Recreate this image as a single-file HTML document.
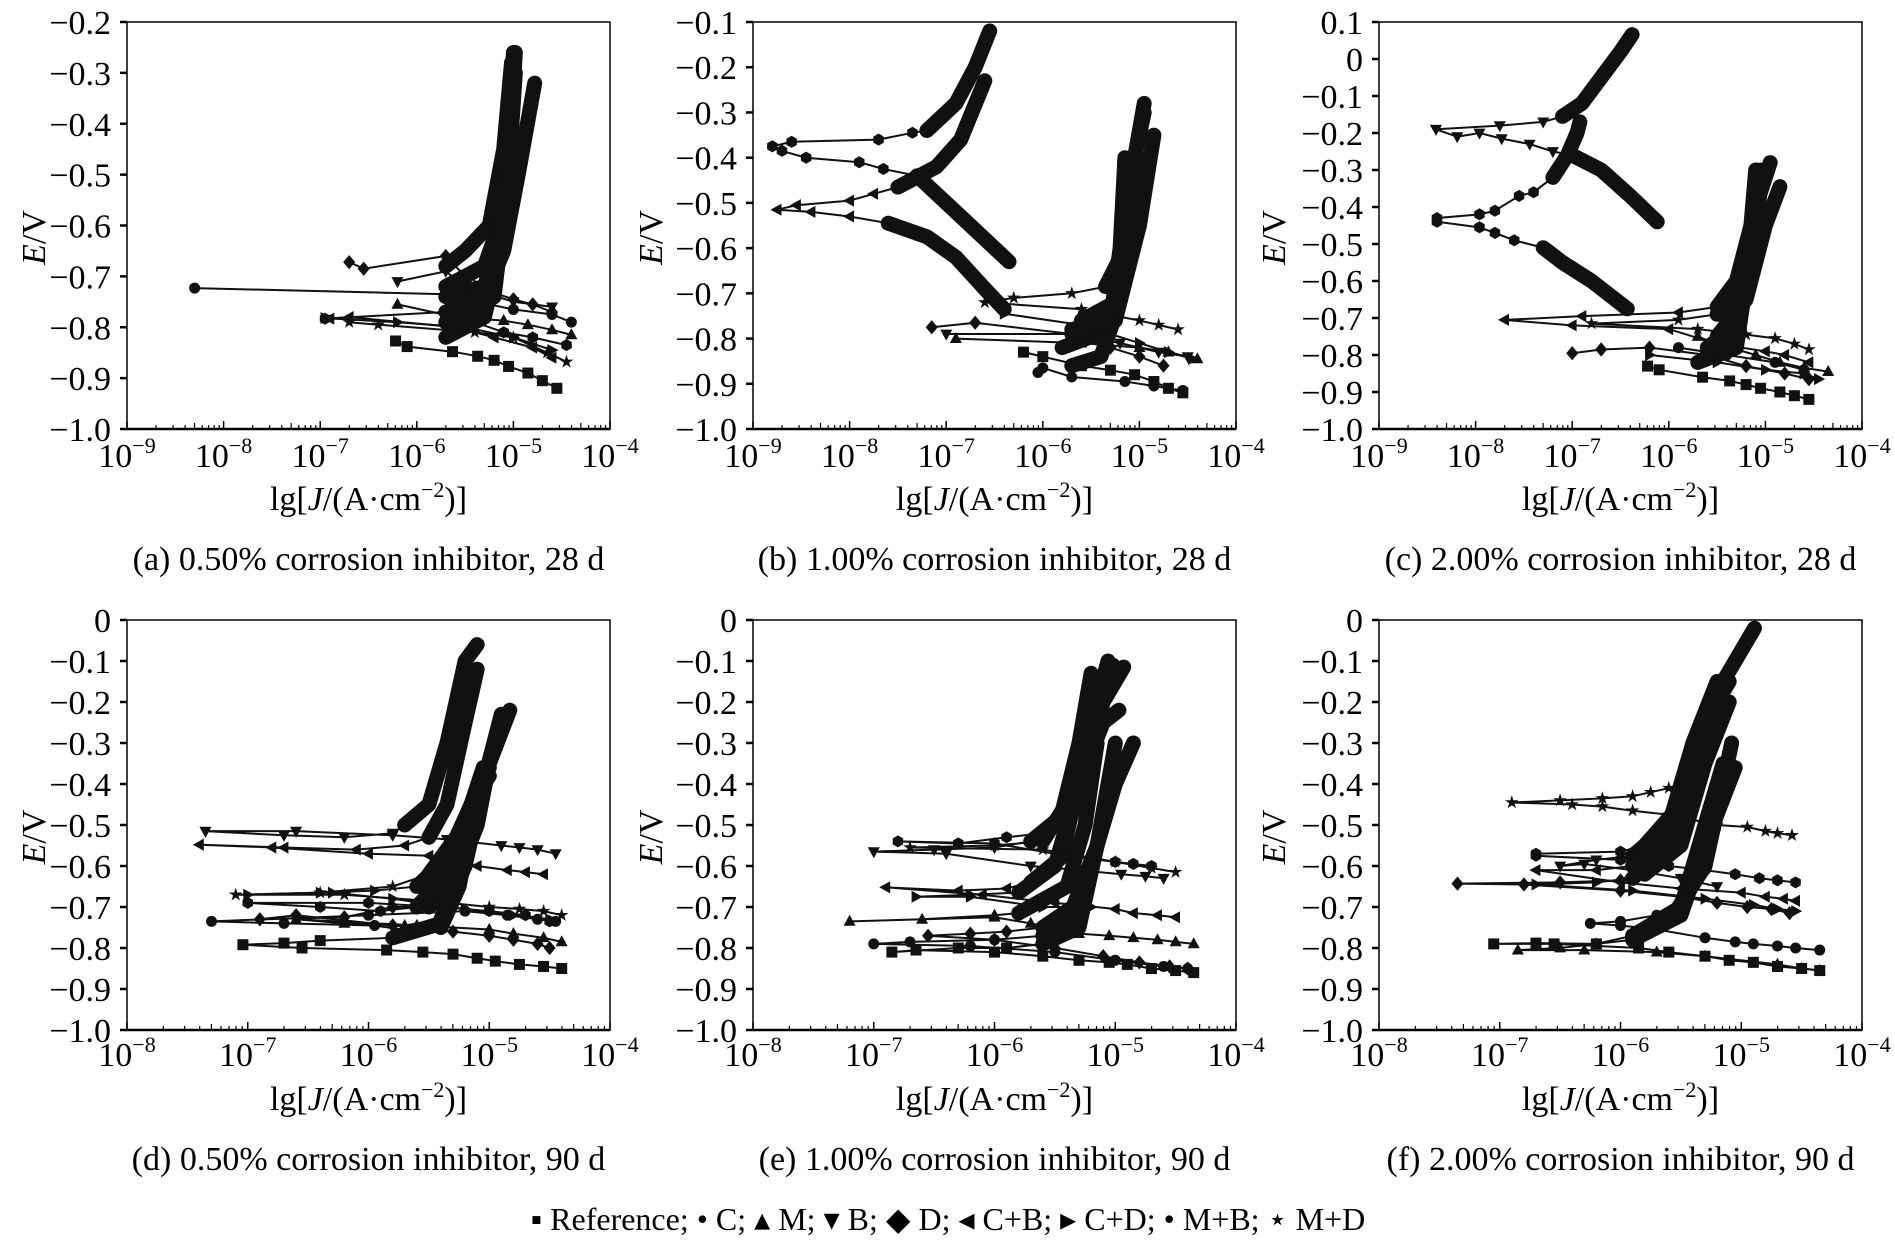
<!DOCTYPE html>
<html><head><meta charset="utf-8"><style>
html,body{margin:0;padding:0;background:#fff;}
svg{display:block;font-family:"Liberation Serif",serif;}
</style></head><body>
<svg id="fig" width="1895" height="1257" viewBox="0 0 1895 1257" xmlns="http://www.w3.org/2000/svg">
<text x="948" y="1230" font-size="32" text-anchor="middle">▪ Reference; • C; ▴ M; ▾ B; ◆ D; ◂ C+B; ▸ C+D; • M+B; ⋆ M+D</text>
</svg>
<script>
// ---------- data (lg J, E/V) ----------
const a_ref=[[-4.55,-0.92],[-4.7,-0.905],[-4.85,-0.89],[-5.05,-0.877],[-5.2,-0.865],[-5.37,-0.857],[-5.63,-0.848],[-6.1,-0.838],[-6.22,-0.827]];
const a_ref_w=[[[-5.7,-0.82],[-5.3,-0.78],[-5.2,-0.7],[-5.12,-0.6],[-5.05,-0.45],[-5.0,-0.27]]];
const a_c=[[-4.4,-0.79],[-4.6,-0.775],[-5.0,-0.765],[-5.5,-0.745],[-5.7,-0.735],[-8.3,-0.723]];
const a_c_w=[[[-5.7,-0.74],[-5.3,-0.72],[-5.18,-0.65],[-5.08,-0.45],[-5.0,-0.27]]];
const a_m=[[-4.4,-0.815],[-4.6,-0.805],[-4.85,-0.795],[-5.1,-0.787],[-5.6,-0.78],[-6.2,-0.755]];
const a_m_w=[[[-5.7,-0.77],[-5.3,-0.74],[-5.1,-0.65],[-4.95,-0.5],[-4.78,-0.32]]];
const a_b=[[-4.6,-0.76],[-5.0,-0.75],[-5.5,-0.72],[-5.7,-0.69],[-6.2,-0.71]];
const a_b_w=[[[-5.7,-0.72],[-5.3,-0.68],[-5.15,-0.6],[-5.05,-0.45],[-5.0,-0.26]]];
const a_d=[[-4.6,-0.77],[-4.8,-0.755],[-5.0,-0.745],[-5.4,-0.72],[-5.7,-0.66],[-6.55,-0.685],[-6.7,-0.672]];
const a_d_w=[[[-5.7,-0.68],[-5.5,-0.65],[-5.25,-0.6],[-5.1,-0.45],[-5.02,-0.28]]];
const a_cb=[[-4.6,-0.86],[-4.8,-0.84],[-5.2,-0.82],[-5.6,-0.80],[-6.7,-0.78],[-6.9,-0.783]];
const a_cb_w=[[[-5.7,-0.79],[-5.3,-0.75],[-5.15,-0.6],[-5.0,-0.35]]];
const a_cd=[[-4.6,-0.845],[-5.0,-0.82],[-5.5,-0.80],[-6.2,-0.79],[-6.95,-0.782]];
const a_cd_w=[[[-5.6,-0.79],[-5.25,-0.74],[-5.1,-0.55],[-5.0,-0.3]]];
const a_mb=[[-4.45,-0.835],[-4.8,-0.82],[-5.1,-0.81],[-5.7,-0.77],[-6.95,-0.783]];
const a_mb_w=[[[-5.6,-0.78],[-5.2,-0.73],[-5.05,-0.5],[-4.98,-0.3]]];
const a_md=[[-4.45,-0.868],[-4.65,-0.85],[-5.0,-0.82],[-5.4,-0.81],[-6.4,-0.795],[-6.7,-0.79]];
const a_md_w=[[[-5.6,-0.79],[-5.2,-0.74],[-5.05,-0.5],[-4.98,-0.26]]];

const b_ref=[[-4.55,-0.92],[-4.7,-0.91],[-4.85,-0.895],[-5.05,-0.88],[-5.3,-0.87],[-5.6,-0.86],[-6.0,-0.84],[-6.2,-0.83]];
const b_ref_w=[[[-5.8,-0.82],[-5.3,-0.78],[-5.15,-0.6],[-5.05,-0.4],[-4.95,-0.3]]];
const b_c=[[-4.55,-0.915],[-4.85,-0.905],[-5.15,-0.895],[-5.7,-0.885],[-6.0,-0.865],[-6.05,-0.875]];
const b_c_w=[[[-5.7,-0.86],[-5.4,-0.84],[-5.25,-0.75],[-5.15,-0.6],[-5.08,-0.45]]];
const b_m=[[-4.4,-0.845],[-4.7,-0.83],[-5.0,-0.82],[-5.6,-0.81],[-6.9,-0.8]];
const b_m_w=[[[-5.6,-0.8],[-5.25,-0.76],[-5.0,-0.55],[-4.85,-0.35]]];
const b_b=[[-4.5,-0.84],[-4.8,-0.83],[-5.2,-0.81],[-5.7,-0.79],[-7.0,-0.79]];
const b_b_w=[[[-5.7,-0.79],[-5.3,-0.76],[-5.15,-0.6],[-5.05,-0.42]]];
const b_d=[[-4.75,-0.86],[-5.0,-0.84],[-5.3,-0.82],[-5.7,-0.79],[-6.7,-0.765],[-7.15,-0.775]];
const b_d_w=[[[-5.7,-0.78],[-5.3,-0.76],[-5.2,-0.6],[-5.15,-0.4]]];
const b_cb=[[-7.6,-0.545],[-8.0,-0.53],[-8.4,-0.52],[-8.75,-0.515],[-8.55,-0.505],[-8.0,-0.495],[-7.75,-0.48],[-7.5,-0.465]];
const b_cb_w=[[[-6.4,-0.735],[-6.6,-0.69],[-6.9,-0.62],[-7.2,-0.575],[-7.6,-0.545]],[[-7.5,-0.465],[-7.1,-0.42],[-6.85,-0.36],[-6.6,-0.23]]];
const b_cd=[[-4.45,-0.845],[-4.7,-0.83],[-5.0,-0.81],[-5.6,-0.77],[-6.4,-0.745]];
const b_cd_w=[[[-5.6,-0.76],[-5.25,-0.72],[-5.1,-0.55],[-5.0,-0.40]]];
const b_mb=[[-7.3,-0.44],[-7.65,-0.425],[-7.9,-0.41],[-8.45,-0.4],[-8.7,-0.385],[-8.8,-0.375],[-8.6,-0.365],[-7.7,-0.36],[-7.35,-0.345],[-7.2,-0.34]];
const b_mb_w=[[[-6.35,-0.63],[-6.7,-0.56],[-7.0,-0.5],[-7.3,-0.44]],[[-7.2,-0.34],[-6.9,-0.28],[-6.7,-0.2],[-6.55,-0.12]]];
const b_md=[[-4.6,-0.78],[-4.8,-0.77],[-5.0,-0.76],[-5.6,-0.735],[-6.6,-0.72],[-6.3,-0.71],[-5.7,-0.7],[-5.35,-0.685]];
const b_md_w=[[[-5.35,-0.685],[-5.15,-0.6],[-5.05,-0.4],[-4.95,-0.28]]];

const c_ref=[[-4.55,-0.92],[-4.7,-0.91],[-4.85,-0.9],[-5.05,-0.89],[-5.2,-0.88],[-5.37,-0.87],[-5.65,-0.86],[-6.1,-0.84],[-6.22,-0.83]];
const c_ref_w=[[[-5.7,-0.82],[-5.3,-0.78],[-5.2,-0.6],[-5.1,-0.4],[-5.05,-0.3]]];
const c_c=[[-4.6,-0.84],[-4.9,-0.82],[-5.4,-0.8],[-5.9,-0.78]];
const c_c_w=[[[-5.6,-0.78],[-5.3,-0.72],[-5.15,-0.5],[-5.05,-0.35]]];
const c_m=[[-4.35,-0.845],[-4.6,-0.835],[-4.85,-0.82],[-5.1,-0.8],[-5.5,-0.77],[-5.7,-0.75]];
const c_m_w=[[[-5.5,-0.75],[-5.2,-0.65],[-5.0,-0.45],[-4.85,-0.345]]];
const c_b=[[-7.0,-0.26],[-7.2,-0.25],[-7.44,-0.23],[-7.73,-0.215],[-7.96,-0.2],[-8.19,-0.21],[-8.41,-0.19],[-7.75,-0.18],[-7.3,-0.17],[-7.1,-0.155]];
const c_b_w=[[[-6.12,-0.44],[-6.4,-0.37],[-6.7,-0.3],[-7.0,-0.26]],[[-7.1,-0.155],[-6.9,-0.12],[-6.7,-0.05],[-6.5,0.02],[-6.38,0.066]]];
const c_d=[[-4.55,-0.865],[-4.8,-0.85],[-5.2,-0.83],[-5.6,-0.8],[-6.2,-0.78],[-6.7,-0.785],[-7.0,-0.795]];
const c_d_w=[[[-5.6,-0.78],[-5.3,-0.73],[-5.15,-0.5],[-5.1,-0.35]]];
const c_cb=[[-4.55,-0.82],[-4.8,-0.8],[-5.0,-0.79],[-5.5,-0.77],[-6.0,-0.73],[-7.0,-0.72],[-7.7,-0.705],[-6.9,-0.695],[-5.9,-0.685],[-5.5,-0.67]];
const c_cb_w=[[[-5.5,-0.67],[-5.3,-0.6],[-5.15,-0.45],[-5.1,-0.3]]];
const c_cd=[[-4.45,-0.865],[-4.6,-0.85],[-5.0,-0.84],[-5.5,-0.82],[-6.2,-0.8]];
const c_cd_w=[[[-5.6,-0.79],[-5.3,-0.75],[-5.15,-0.55],[-5.05,-0.35]]];
const c_mb=[[-7.3,-0.51],[-7.6,-0.49],[-7.8,-0.47],[-7.96,-0.455],[-8.4,-0.44],[-8.4,-0.43],[-7.96,-0.42],[-7.8,-0.41],[-7.55,-0.37],[-7.4,-0.36],[-7.2,-0.32]];
const c_mb_w=[[[-6.43,-0.675],[-6.8,-0.6],[-7.1,-0.55],[-7.3,-0.51]],[[-7.2,-0.32],[-7.05,-0.26],[-6.95,-0.2],[-6.92,-0.17]]];
const c_md=[[-4.55,-0.785],[-4.7,-0.77],[-4.9,-0.755],[-5.2,-0.745],[-5.7,-0.73],[-6.8,-0.715],[-5.9,-0.705],[-5.5,-0.69]];
const c_md_w=[[[-5.5,-0.69],[-5.25,-0.6],[-5.1,-0.4],[-4.95,-0.28]]];

const d_ref=[[-4.4,-0.85],[-4.55,-0.845],[-4.75,-0.84],[-4.95,-0.832],[-5.1,-0.825],[-5.3,-0.815],[-5.55,-0.81],[-5.85,-0.805],[-6.55,-0.8],[-7.04,-0.792],[-6.7,-0.788],[-6.4,-0.782],[-5.8,-0.775]];
const d_ref_w=[[[-5.8,-0.775],[-5.4,-0.74],[-5.25,-0.6],[-5.15,-0.45],[-5.05,-0.36]]];
const d_c=[[-4.45,-0.735],[-4.6,-0.73],[-4.85,-0.72],[-5.2,-0.71],[-6.0,-0.72],[-7.3,-0.735],[-6.7,-0.74],[-5.95,-0.745],[-5.6,-0.76],[-5.4,-0.75]];
const d_c_w=[[[-5.4,-0.75],[-5.25,-0.65],[-5.15,-0.5],[-5.05,-0.38]]];
const d_m=[[-4.4,-0.785],[-4.55,-0.775],[-4.8,-0.765],[-5.0,-0.755],[-5.6,-0.745],[-6.6,-0.73],[-6.2,-0.74],[-5.7,-0.745],[-5.4,-0.73]];
const d_m_w=[[[-5.4,-0.73],[-5.2,-0.6],[-5.05,-0.4],[-4.9,-0.23]]];
const d_b=[[-4.45,-0.57],[-4.6,-0.56],[-4.75,-0.555],[-4.9,-0.55],[-5.35,-0.535],[-5.8,-0.525],[-6.6,-0.515],[-7.35,-0.515],[-6.7,-0.525],[-6.2,-0.53],[-5.8,-0.52],[-5.7,-0.5]];
const d_b_w=[[[-5.7,-0.5],[-5.5,-0.45],[-5.35,-0.3],[-5.2,-0.1],[-5.1,-0.06]]];
const d_d=[[-4.5,-0.8],[-4.6,-0.79],[-4.8,-0.78],[-5.0,-0.77],[-5.3,-0.76],[-5.8,-0.745],[-6.6,-0.72],[-6.9,-0.73],[-6.2,-0.725],[-5.8,-0.7],[-5.5,-0.7]];
const d_d_w=[[[-5.5,-0.7],[-5.3,-0.65],[-5.1,-0.5],[-5.0,-0.35]]];
const d_cb=[[-4.55,-0.62],[-4.7,-0.615],[-4.85,-0.61],[-5.1,-0.6],[-5.5,-0.575],[-6.0,-0.57],[-6.8,-0.555],[-7.4,-0.548],[-6.7,-0.555],[-6.1,-0.56],[-5.7,-0.55],[-5.5,-0.53]];
const d_cb_w=[[[-5.5,-0.53],[-5.35,-0.45],[-5.2,-0.25],[-5.1,-0.12]]];
const d_cd=[[-4.5,-0.73],[-4.8,-0.72],[-5.2,-0.705],[-5.8,-0.68],[-6.3,-0.665],[-7.0,-0.67],[-6.4,-0.665],[-5.95,-0.66],[-5.6,-0.65]];
const d_cd_w=[[[-5.6,-0.65],[-5.35,-0.58],[-5.15,-0.45],[-5.0,-0.36]]];
const d_mb=[[-4.5,-0.735],[-4.7,-0.72],[-5.0,-0.71],[-5.4,-0.7],[-6.0,-0.69],[-7.0,-0.69],[-6.4,-0.7],[-5.9,-0.71],[-5.6,-0.7]];
const d_mb_w=[[[-5.6,-0.7],[-5.35,-0.62],[-5.15,-0.45],[-5.0,-0.38]]];
const d_md=[[-4.4,-0.72],[-4.55,-0.71],[-4.75,-0.705],[-5.0,-0.7],[-5.5,-0.685],[-6.2,-0.67],[-7.1,-0.67],[-6.4,-0.665],[-5.8,-0.65],[-5.5,-0.62]];
const d_md_w=[[[-5.5,-0.62],[-5.2,-0.5],[-5.0,-0.35],[-4.83,-0.22]]];

const e_ref=[[-4.35,-0.86],[-4.5,-0.855],[-4.7,-0.85],[-4.9,-0.84],[-5.05,-0.835],[-5.3,-0.83],[-5.6,-0.82],[-6.0,-0.81],[-6.65,-0.805],[-6.85,-0.81],[-6.3,-0.8],[-5.9,-0.8],[-5.6,-0.79]];
const e_ref_w=[[[-5.6,-0.79],[-5.3,-0.75],[-5.15,-0.55],[-5.0,-0.4],[-4.85,-0.3]]];
const e_c=[[-4.4,-0.85],[-4.6,-0.845],[-5.0,-0.83],[-5.5,-0.81],[-6.2,-0.795],[-7.0,-0.79],[-6.7,-0.785],[-6.0,-0.78],[-5.6,-0.77]];
const e_c_w=[[[-5.6,-0.77],[-5.3,-0.72],[-5.15,-0.55],[-5.0,-0.37]]];
const e_m=[[-4.35,-0.79],[-4.5,-0.785],[-4.65,-0.78],[-4.85,-0.775],[-5.05,-0.77],[-5.3,-0.765],[-5.7,-0.74],[-6.0,-0.725],[-7.2,-0.735],[-6.6,-0.73],[-6.0,-0.72],[-5.8,-0.715]];
const e_m_w=[[[-5.8,-0.715],[-5.4,-0.65],[-5.25,-0.5],[-5.15,-0.3]]];
const e_b=[[-4.6,-0.63],[-4.75,-0.625],[-4.95,-0.62],[-5.3,-0.61],[-5.7,-0.6],[-6.4,-0.57],[-7.0,-0.565],[-6.5,-0.56],[-6.0,-0.555],[-5.7,-0.54]];
const e_b_w=[[[-5.7,-0.54],[-5.45,-0.48],[-5.3,-0.3],[-5.2,-0.13]]];
const e_d=[[-4.4,-0.85],[-4.55,-0.845],[-4.8,-0.835],[-5.1,-0.82],[-5.5,-0.8],[-6.0,-0.78],[-6.55,-0.77],[-6.2,-0.765],[-5.9,-0.76],[-5.6,-0.75]];
const e_d_w=[[[-5.6,-0.75],[-5.35,-0.7],[-5.15,-0.55],[-5.0,-0.3]]];
const e_cb=[[-4.5,-0.725],[-4.65,-0.72],[-4.85,-0.715],[-5.0,-0.705],[-5.5,-0.69],[-6.1,-0.67],[-6.9,-0.652],[-6.3,-0.66],[-5.9,-0.655],[-5.7,-0.64]];
const e_cb_w=[[[-5.7,-0.64],[-5.45,-0.58],[-5.3,-0.4],[-5.1,-0.15],[-5.02,-0.11]]];
const e_cd=[[-5.2,-0.7],[-5.6,-0.7],[-6.2,-0.675],[-6.65,-0.675],[-6.2,-0.67],[-5.8,-0.665]];
const e_cd_w=[[[-5.8,-0.665],[-5.5,-0.6],[-5.3,-0.4],[-5.1,-0.25],[-4.97,-0.22]]];
const e_mb=[[-4.7,-0.6],[-4.85,-0.595],[-5.0,-0.59],[-5.4,-0.575],[-6.0,-0.545],[-6.8,-0.54],[-6.3,-0.545],[-5.9,-0.53],[-5.6,-0.52]];
const e_mb_w=[[[-5.6,-0.52],[-5.35,-0.45],[-5.2,-0.25],[-5.06,-0.1]]];
const e_md=[[-4.5,-0.615],[-4.7,-0.605],[-5.0,-0.59],[-5.6,-0.56],[-6.7,-0.555],[-6.0,-0.55],[-5.6,-0.54]];
const e_md_w=[[[-5.6,-0.54],[-5.3,-0.4],[-5.1,-0.2],[-4.93,-0.115]]];

const f_ref=[[-4.35,-0.855],[-4.5,-0.85],[-4.7,-0.845],[-4.9,-0.835],[-5.1,-0.83],[-5.3,-0.82],[-5.6,-0.81],[-5.85,-0.8],[-6.55,-0.79],[-7.05,-0.79],[-6.7,-0.788],[-6.2,-0.79],[-5.9,-0.77]];
const f_ref_w=[[[-5.9,-0.77],[-5.5,-0.7],[-5.3,-0.5],[-5.15,-0.35]]];
const f_c=[[-4.35,-0.805],[-4.55,-0.8],[-4.7,-0.795],[-4.9,-0.79],[-5.05,-0.785],[-5.3,-0.775],[-5.7,-0.755],[-6.0,-0.745],[-6.25,-0.74],[-6.0,-0.735],[-5.7,-0.72],[-5.55,-0.715]];
const f_c_w=[[[-5.55,-0.715],[-5.3,-0.6],[-5.15,-0.4],[-5.08,-0.3]]];
const f_m=[[-4.35,-0.855],[-4.5,-0.85],[-4.7,-0.84],[-5.3,-0.82],[-5.7,-0.81],[-6.3,-0.805],[-6.85,-0.805],[-6.5,-0.8],[-6.2,-0.79],[-5.9,-0.78]];
const f_m_w=[[[-5.9,-0.78],[-5.5,-0.72],[-5.3,-0.55],[-5.05,-0.36]]];
const f_b=[[-5.2,-0.65],[-5.5,-0.63],[-5.9,-0.61],[-6.3,-0.595],[-6.5,-0.6],[-6.2,-0.585],[-5.9,-0.575]];
const f_b_w=[[[-5.9,-0.575],[-5.6,-0.5],[-5.4,-0.3],[-5.2,-0.15]]];
const f_d=[[-4.6,-0.715],[-4.75,-0.705],[-4.95,-0.7],[-5.2,-0.69],[-5.5,-0.675],[-6.0,-0.66],[-6.8,-0.645],[-7.35,-0.643],[-6.5,-0.64],[-6.0,-0.635],[-5.8,-0.62]];
const f_d_w=[[[-5.8,-0.62],[-5.5,-0.55],[-5.3,-0.35],[-5.1,-0.2]]];
const f_cb=[[-4.55,-0.685],[-4.65,-0.68],[-4.8,-0.675],[-5.0,-0.665],[-5.5,-0.655],[-6.0,-0.64],[-6.7,-0.61],[-6.2,-0.61],[-5.9,-0.6]];
const f_cb_w=[[[-5.9,-0.6],[-5.6,-0.53],[-5.4,-0.35],[-5.2,-0.2]]];
const f_cd=[[-4.55,-0.71],[-4.7,-0.705],[-4.9,-0.695],[-5.3,-0.68],[-5.9,-0.66],[-6.7,-0.645],[-6.2,-0.64],[-5.9,-0.63]];
const f_cd_w=[[[-5.9,-0.63],[-5.6,-0.55],[-5.4,-0.4],[-5.15,-0.2]]];
const f_mb=[[-4.55,-0.64],[-4.7,-0.635],[-4.85,-0.63],[-5.05,-0.62],[-5.3,-0.61],[-5.6,-0.6],[-6.0,-0.585],[-6.7,-0.575],[-6.7,-0.57],[-6.0,-0.565],[-5.8,-0.55]];
const f_mb_w=[[[-5.8,-0.55],[-5.5,-0.45],[-5.3,-0.25],[-5.1,-0.15]]];
const f_md=[[-4.58,-0.525],[-4.7,-0.52],[-4.8,-0.515],[-4.95,-0.505],[-5.2,-0.5],[-5.6,-0.475],[-5.9,-0.465],[-6.15,-0.455],[-6.4,-0.45],[-6.9,-0.445],[-6.5,-0.44],[-6.15,-0.435],[-5.9,-0.43],[-5.75,-0.42],[-5.6,-0.41],[-5.45,-0.395]];
const f_md_w=[[[-5.45,-0.395],[-5.3,-0.3],[-5.15,-0.15],[-4.89,-0.02]]];

const seriesNames=["ref","c","m","b","d","cb","cd","mb","md"];
const seriesMarkers=["square","circle","tri-up","tri-down","diamond","tri-left","tri-right","hexagon","star"];
const captions=["(a) 0.50% corrosion inhibitor, 28 d","(b) 1.00% corrosion inhibitor, 28 d","(c) 2.00% corrosion inhibitor, 28 d","(d) 0.50% corrosion inhibitor, 90 d","(e) 1.00% corrosion inhibitor, 90 d","(f) 2.00% corrosion inhibitor, 90 d"];
const xDomains=[[-9,-4],[-9,-4],[-9,-4],[-8,-4],[-8,-4],[-8,-4]];
const yDomains=[[-1,-0.2],[-1,-0.1],[-1,0.1],[-1,0],[-1,0],[-1,0]];
const panelData={
 a:[[a_ref,a_ref_w],[a_c,a_c_w],[a_m,a_m_w],[a_b,a_b_w],[a_d,a_d_w],[a_cb,a_cb_w],[a_cd,a_cd_w],[a_mb,a_mb_w],[a_md,a_md_w]],
 b:[[b_ref,b_ref_w],[b_c,b_c_w],[b_m,b_m_w],[b_b,b_b_w],[b_d,b_d_w],[b_cb,b_cb_w],[b_cd,b_cd_w],[b_mb,b_mb_w],[b_md,b_md_w]],
 c:[[c_ref,c_ref_w],[c_c,c_c_w],[c_m,c_m_w],[c_b,c_b_w],[c_d,c_d_w],[c_cb,c_cb_w],[c_cd,c_cd_w],[c_mb,c_mb_w],[c_md,c_md_w]],
 d:[[d_ref,d_ref_w],[d_c,d_c_w],[d_m,d_m_w],[d_b,d_b_w],[d_d,d_d_w],[d_cb,d_cb_w],[d_cd,d_cd_w],[d_mb,d_mb_w],[d_md,d_md_w]],
 e:[[e_ref,e_ref_w],[e_c,e_c_w],[e_m,e_m_w],[e_b,e_b_w],[e_d,e_d_w],[e_cb,e_cb_w],[e_cd,e_cd_w],[e_mb,e_mb_w],[e_md,e_md_w]],
 f:[[f_ref,f_ref_w],[f_c,f_c_w],[f_m,f_m_w],[f_b,f_b_w],[f_d,f_d_w],[f_cb,f_cb_w],[f_cd,f_cd_w],[f_mb,f_mb_w],[f_md,f_md_w]]
};

// ---------- layout ----------
const NS="http://www.w3.org/2000/svg";
const svg=document.getElementById('fig');
const layout=[
 {k:'a',x0:127,x1:610,y0:22,y1:429,tl:467,tt:510,cap:570,ev:33},
 {k:'b',x0:753,x1:1236,y0:22,y1:429,tl:467,tt:510,cap:570,ev:650},
 {k:'c',x0:1379,x1:1862,y0:22,y1:429,tl:467,tt:510,cap:570,ev:1273},
 {k:'d',x0:127,x1:610,y0:620,y1:1030,tl:1066,tt:1110,cap:1170,ev:33},
 {k:'e',x0:753,x1:1236,y0:620,y1:1030,tl:1066,tt:1110,cap:1170,ev:650},
 {k:'f',x0:1379,x1:1862,y0:620,y1:1030,tl:1066,tt:1110,cap:1170,ev:1273}
];
function mk(tag,attrs,parent){const e=document.createElementNS(NS,tag);for(const k in attrs)e.setAttribute(k,attrs[k]);(parent||svg).appendChild(e);return e;}
function fmt(v){if(Math.abs(v)<1e-9)return "0";return (v<0?"\u2212":"")+Math.abs(v).toFixed(1);}
function marker(g,type,x,y){
 const r=5.5;let el;
 if(type==='square'){el=mk('rect',{x:x-r,y:y-r,width:2*r,height:2*r},g);}
 else if(type==='circle'){el=mk('circle',{cx:x,cy:y,r:r},g);}
 else{
  let pts;
  if(type==='tri-up')pts=[[0,-r*1.2],[r*1.1,r*0.8],[-r*1.1,r*0.8]];
  else if(type==='tri-down')pts=[[0,r*1.2],[r*1.1,-r*0.8],[-r*1.1,-r*0.8]];
  else if(type==='tri-left')pts=[[-r*1.2,0],[r*0.8,-r*1.1],[r*0.8,r*1.1]];
  else if(type==='tri-right')pts=[[r*1.2,0],[-r*0.8,-r*1.1],[-r*0.8,r*1.1]];
  else if(type==='diamond')pts=[[0,-r*1.3],[r*1.1,0],[0,r*1.3],[-r*1.1,0]];
  else if(type==='hexagon'){pts=[];for(let i=0;i<6;i++){const a=Math.PI/3*i+Math.PI/6;pts.push([r*1.1*Math.cos(a),r*1.1*Math.sin(a)]);}}
  else {pts=[];for(let i=0;i<10;i++){const a=-Math.PI/2+Math.PI/5*i;const rr=i%2?r*0.5:r*1.3;pts.push([rr*Math.cos(a),rr*Math.sin(a)]);}}
  el=mk('polygon',{points:pts.map(p=>(x+p[0]).toFixed(1)+','+(y+p[1]).toFixed(1)).join(' ')},g);
 }
 el.setAttribute('fill','#111');
 
 
}

layout.forEach((L,pi)=>{
 const [xa,xb]=xDomains[pi],[ya,yb]=yDomains[pi];
 const X=v=>L.x0+(v-xa)/(xb-xa)*(L.x1-L.x0);
 const Y=v=>L.y1-(v-ya)/(yb-ya)*(L.y1-L.y0);
 const g=mk('g',{});
 
 
 const nY=Math.round((yb-ya)/0.1);
 for(let i=0;i<=nY;i++){
  const v=ya+i*0.1,y=Y(v);
  const t=mk('line',{x1:L.x0-7,x2:L.x0,y1:y,y2:y,stroke:'#000','stroke-width':2.5},g);
  
  const lab=mk('text',{x:L.x0-16,y:y+12,'font-size':34,'text-anchor':'end'},g);
  lab.textContent=(i===0)?"\u22121.0":fmt(v);
  
 }
 for(let d=xa;d<=xb;d++){
  const x=X(d);
  mk('line',{x1:x,x2:x,y1:L.y1,y2:L.y1-8,stroke:'#000','stroke-width':1.5},g);
  if(d<xb){for(let m=2;m<=9;m++){const xm=X(d+Math.log10(m));mk('line',{x1:xm,x2:xm,y1:L.y1,y2:L.y1-(m===5?6:4),stroke:'#000','stroke-width':1.2},g);}}
  const lab=mk('text',{x:x,y:L.tl,'font-size':34,'text-anchor':'middle'},g);
  
  const t1=mk('tspan',{},lab);t1.textContent='10';
  const t2=mk('tspan',{dy:-14,'font-size':22},lab);t2.textContent='\u2212'+Math.abs(d);
 }
 const fr=mk('rect',{x:L.x0,y:L.y0,width:L.x1-L.x0,height:L.y1-L.y0,fill:'none',stroke:'#000','stroke-width':1.5},g);
 
 mk('line',{x1:L.x0,x2:L.x1,y1:L.y1,y2:L.y1,stroke:'#000','stroke-width':2.5},g);
 panelData[L.k].forEach((s,si)=>{
  const sg=mk('g',{},g);
  
  
  const pts=s[0],walls=s[1];
  walls.forEach(w=>{
   const pl=mk('polyline',{points:w.map(p=>X(p[0]).toFixed(1)+','+Y(p[1]).toFixed(1)).join(' '),fill:'none',stroke:'#111','stroke-width':15,'stroke-linejoin':'round','stroke-linecap':'round'},sg);
   
   const e=w[w.length-1];marker(sg,seriesMarkers[si],X(e[0]),Y(e[1]));
  });
  const ln=mk('polyline',{points:pts.map(p=>X(p[0]).toFixed(1)+','+Y(p[1]).toFixed(1)).join(' '),fill:'none',stroke:'#111','stroke-width':2},sg);
  
  pts.forEach(p=>marker(sg,seriesMarkers[si],X(p[0]),Y(p[1])));
 });
 const cx=(L.x0+L.x1)/2;
 const xt=mk('text',{x:cx,y:L.tt,'font-size':34,'text-anchor':'middle'},g);
 
 const a1=mk('tspan',{},xt);a1.textContent='lg[';
 const a2=mk('tspan',{'font-style':'italic'},xt);a2.textContent='J';
 const a3=mk('tspan',{},xt);a3.textContent='/(A\u00b7cm';
 const a4=mk('tspan',{dy:-13,'font-size':22},xt);a4.textContent='\u22122';
 const a5=mk('tspan',{dy:13},xt);a5.textContent=')]';
 const cy=(L.y0+L.y1)/2;
 const yt=mk('text',{x:L.ev,y:cy,'font-size':34,'text-anchor':'middle',transform:'rotate(-90 '+(L.ev+12)+' '+cy+')'},g);
 
 const b1=mk('tspan',{'font-style':'italic'},yt);b1.textContent='E';
 const b2=mk('tspan',{},yt);b2.textContent='/V';
 const cp=mk('text',{x:cx,y:L.cap,'font-size':34,'text-anchor':'middle'},g);
 
 cp.textContent=captions[pi];
});
</script>
</body></html>
